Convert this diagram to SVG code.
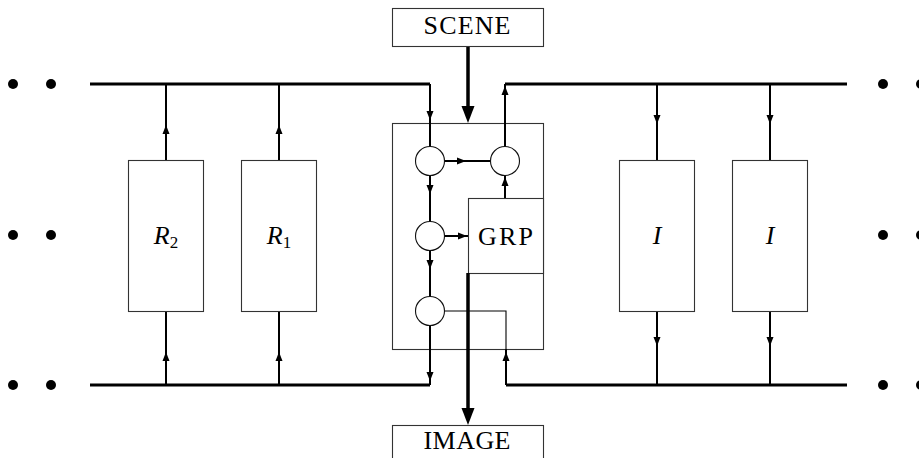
<svg xmlns="http://www.w3.org/2000/svg" xmlns:xlink="http://www.w3.org/1999/xlink" width="919" height="458" viewBox="0 0 919 458">
<style>
.box{fill:#fff;stroke:#333;stroke-width:1.1}
.circ{fill:#fff;stroke:#111;stroke-width:1.1}
.bus{fill:none;stroke:#000;stroke-width:3}
.con{fill:none;stroke:#000;stroke-width:2}
.thin{fill:none;stroke:#000;stroke-width:1.1}
.thick{fill:none;stroke:#000;stroke-width:3.5}
.lbl{font-family:"Liberation Serif","DejaVu Serif",serif;font-size:26px;fill:#000;text-anchor:middle}
.it{font-style:italic}
.dot{fill:#000}
</style>
<defs>
<polygon id="ah" points="0,0 -3.5,9 3.5,9" fill="#000"/>
<polygon id="bh" points="0,0 -6.5,17 6.5,17" fill="#000"/>
</defs>

<g id="dots">
<circle class="dot" cx="13" cy="84" r="5"/><circle class="dot" cx="51" cy="84" r="5"/>
<circle class="dot" cx="13" cy="235" r="5"/><circle class="dot" cx="51" cy="235" r="5"/>
<circle class="dot" cx="13" cy="385" r="5"/><circle class="dot" cx="51" cy="385" r="5"/>
<circle class="dot" cx="883" cy="84" r="5"/><circle class="dot" cx="921" cy="84" r="5"/>
<circle class="dot" cx="883" cy="235" r="5"/><circle class="dot" cx="921" cy="235" r="5"/>
<circle class="dot" cx="883" cy="385" r="5"/><circle class="dot" cx="921" cy="385" r="5"/>
</g>

<g id="core">
<rect class="box" x="392.5" y="123.5" width="151" height="226"/>
</g>

<g id="connectors">
<polyline class="bus" points="90,84 430,84"/>
<polyline class="con" points="430,84 430,147"/>
<polyline class="bus" points="90,385 430,385"/>
<polyline class="con" points="430,326 430,385"/>
<polyline class="bus" points="847,84 505,84"/>
<polyline class="con" points="505,84 505,147"/>
<polyline class="bus" points="847,385 506,385"/>
<polyline class="con" points="506,385 506,349"/>
<polyline class="thin" points="506,349 506,311 445,311"/>
<line class="con" x1="166" y1="160" x2="166" y2="84"/>
<line class="con" x1="279" y1="160" x2="279" y2="84"/>
<line class="con" x1="166" y1="385" x2="166" y2="311"/>
<line class="con" x1="279" y1="385" x2="279" y2="311"/>
<line class="con" x1="657" y1="84" x2="657" y2="160"/>
<line class="con" x1="770" y1="84" x2="770" y2="160"/>
<line class="con" x1="657" y1="311" x2="657" y2="385"/>
<line class="con" x1="770" y1="311" x2="770" y2="385"/>
<line class="con" x1="445" y1="161" x2="490" y2="161"/>
<line class="con" x1="430" y1="175" x2="430" y2="222"/>
<line class="con" x1="445" y1="236" x2="468" y2="236"/>
<line class="con" x1="505" y1="198" x2="505" y2="175"/>
<line class="con" x1="430" y1="250" x2="430" y2="297"/>
<line class="thick" x1="468" y1="46" x2="468" y2="110"/>
<use xlink:href="#ah" transform="translate(166,125)"/>
<use xlink:href="#ah" transform="translate(279,125)"/>
<use xlink:href="#ah" transform="translate(166,352)"/>
<use xlink:href="#ah" transform="translate(279,352)"/>
<use xlink:href="#ah" transform="translate(657,124) rotate(180)"/>
<use xlink:href="#ah" transform="translate(770,124) rotate(180)"/>
<use xlink:href="#ah" transform="translate(657,346) rotate(180)"/>
<use xlink:href="#ah" transform="translate(770,346) rotate(180)"/>
<use xlink:href="#ah" transform="translate(430,120) rotate(180)"/>
<use xlink:href="#ah" transform="translate(505,86)"/>
<use xlink:href="#ah" transform="translate(466,161) rotate(90)"/>
<use xlink:href="#ah" transform="translate(430,194) rotate(180)"/>
<use xlink:href="#ah" transform="translate(467,236) rotate(90)"/>
<use xlink:href="#ah" transform="translate(505,177)"/>
<use xlink:href="#ah" transform="translate(430,269) rotate(180)"/>
<use xlink:href="#ah" transform="translate(430,381) rotate(180)"/>
<use xlink:href="#ah" transform="translate(506,352)"/>
<use xlink:href="#bh" transform="translate(468,123) rotate(180)"/>
<use xlink:href="#bh" transform="translate(468,425) rotate(180)"/>
</g>

<g id="scene">
<rect class="box" x="392.5" y="8.5" width="151" height="38"/>
<text class="lbl" x="467" y="34" textLength="87" lengthAdjust="spacing">SCENE</text>
</g>
<g id="image">
<rect class="box" x="392.5" y="425.5" width="151" height="40"/>
<text class="lbl" x="467" y="449" textLength="87" lengthAdjust="spacing">IMAGE</text>
</g>
<g id="r2">
<rect class="box" x="128.5" y="160.5" width="75" height="151"/>
<text class="lbl it" x="166" y="244">R<tspan font-style="normal" font-size="17" dy="4">2</tspan></text>
</g>
<g id="r1">
<rect class="box" x="241.5" y="160.5" width="75" height="151"/>
<text class="lbl it" x="279" y="244">R<tspan font-style="normal" font-size="17" dy="4">1</tspan></text>
</g>
<g id="i1">
<rect class="box" x="619.5" y="160.5" width="75" height="151"/>
<text class="lbl it" x="657" y="244">I</text>
</g>
<g id="i2">
<rect class="box" x="732.5" y="160.5" width="75" height="151"/>
<text class="lbl it" x="770" y="244">I</text>
</g>
<g id="c1"><circle class="circ" cx="430" cy="161" r="14.5"/></g>
<g id="c2"><circle class="circ" cx="505" cy="161" r="14.5"/></g>
<g id="c3"><circle class="circ" cx="430" cy="236" r="14.5"/></g>
<g id="c4"><circle class="circ" cx="430" cy="311" r="14.5"/></g>
<g id="grp">
<rect class="box" x="468.5" y="198.5" width="75" height="75"/>
<text class="lbl" x="505.5" y="245" textLength="55" lengthAdjust="spacing">GRP</text>
</g>
<g id="grpout">
<line class="thick" x1="468" y1="273" x2="468" y2="412"/>
</g>
</svg>
